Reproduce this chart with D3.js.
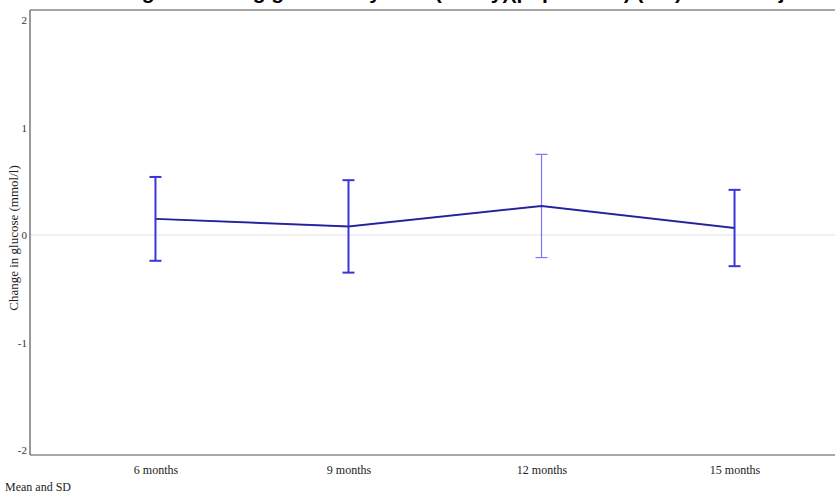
<!DOCTYPE html>
<html>
<head>
<meta charset="utf-8">
<script src="https://cdn.jsdelivr.net/npm/d3@7"></script>
<style>
    body { margin: 0; background: #fff; overflow: hidden; }
    svg { display: block; }
</style>
</head>
<body>
<div id="chart"></div>
<script>
const visits = ["6 months", "9 months", "12 months", "15 months"]
const means = [0.15, 0.08, 0.27, 0.065]
const sds = [0.39, 0.43, 0.48, 0.355]
const yTicks = [-2, -1, 0, 1, 2]
const barColors = ["#3b35d8", "#3b35d8", "#7b78f4", "#3b35d8"]
const barWidths = [2, 2, 1.2, 2]

const w = 835
const h = 493

const svg = d3.select('#chart')
    .append('svg')
    .attr('width', w)
    .attr('height', h)

const xScale = d3.scalePoint()
    .domain(visits)
    .range([30, 860])
    .padding(0.65)

const yScale = d3.scaleLinear()
    .domain([-2, 2])
    .range([450, 20])

const plotTop = yScale(2) - 10
const plotBottom = yScale(-2) + 5
const plotLeft = 30

// title, mostly cut off above the window
svg.append('text')
    .attr('x', 430)
    .attr('y', -1)
    .attr('text-anchor', 'middle')
    .style('font-family', 'Liberation Sans, Arial, sans-serif')
    .style('font-weight', 'bold')
    .style('font-size', '21px')
    .text('Mean change in fasting glucose by visit (safety)(population) (ITT) in all subjects')

// frame
svg.append('line')
    .attr('x1', plotLeft).attr('x2', w)
    .attr('y1', plotTop).attr('y2', plotTop)
    .attr('stroke', '#8a8a8a').attr('stroke-width', 1.5)

svg.append('line')
    .attr('x1', plotLeft).attr('x2', w)
    .attr('y1', plotBottom).attr('y2', plotBottom)
    .attr('stroke', '#555').attr('stroke-width', 1.2)

svg.append('line')
    .attr('x1', plotLeft).attr('x2', w)
    .attr('y1', yScale(0)).attr('y2', yScale(0))
    .attr('stroke', '#e2e2e2').attr('stroke-width', 1)

const yAxis = d3.axisLeft(yScale)
    .tickValues(yTicks)
    .tickSize(0)
    .tickPadding(3)
    .tickFormat(d => String(d))

const yG = svg.append('g')
    .attr('transform', 'translate(' + plotLeft + ',0)')
    .call(yAxis)
yG.select('.domain')
    .attr('d', 'M0,' + plotTop + 'V' + plotBottom)
    .attr('stroke', '#555')
    .attr('stroke-width', 1.2)
yG.selectAll('text')
    .style('font-family', 'Liberation Serif, Times New Roman, serif')
    .style('font-size', '11px')
    .attr('fill', '#333')

const xAxis = d3.axisBottom(xScale)
    .tickSize(0)
    .tickPadding(10)

const xG = svg.append('g')
    .attr('transform', 'translate(0,' + plotBottom + ')')
    .call(xAxis)
xG.select('.domain').remove()
xG.selectAll('text')
    .style('font-family', 'Liberation Serif, Times New Roman, serif')
    .style('font-size', '12px')
    .attr('fill', '#222')

svg.append('text')
    .attr('transform', 'translate(18,' + (yScale(0) + 3) + ') rotate(-90)')
    .attr('text-anchor', 'middle')
    .style('font-family', 'Liberation Serif, Times New Roman, serif')
    .style('font-size', '13px')
    .attr('fill', '#222')
    .text('Change in glucose (mmol/l)')

svg.append('text')
    .attr('x', 5)
    .attr('y', 491)
    .style('font-family', 'Liberation Serif, Times New Roman, serif')
    .style('font-size', '12px')
    .attr('fill', '#222')
    .text('Mean and SD')

const data = visits.map((v, i) => ({ visit: v, mean: means[i], sd: sds[i], color: barColors[i], sw: barWidths[i] }))

// error bars
const bars = svg.append('g')
    .selectAll('g')
    .data(data)
    .enter()
    .append('g')
    .attr('stroke', d => d.color)
    .attr('stroke-width', d => d.sw)

bars.append('line')
    .attr('x1', d => xScale(d.visit)).attr('x2', d => xScale(d.visit))
    .attr('y1', d => yScale(d.mean + d.sd)).attr('y2', d => yScale(d.mean - d.sd))

bars.append('line')
    .attr('x1', d => xScale(d.visit) - 6).attr('x2', d => xScale(d.visit) + 6)
    .attr('y1', d => yScale(d.mean + d.sd)).attr('y2', d => yScale(d.mean + d.sd))

bars.append('line')
    .attr('x1', d => xScale(d.visit) - 6).attr('x2', d => xScale(d.visit) + 6)
    .attr('y1', d => yScale(d.mean - d.sd)).attr('y2', d => yScale(d.mean - d.sd))

// mean line
const line = d3.line()
    .x(d => xScale(d.visit))
    .y(d => yScale(d.mean))

svg.append('path')
    .datum(data)
    .attr('d', line)
    .attr('fill', 'none')
    .attr('stroke', '#3a36d0')
    .attr('stroke-width', 2)

svg.append('path')
    .datum(data)
    .attr('d', line)
    .attr('fill', 'none')
    .attr('stroke', '#1c1a5e')
    .attr('stroke-width', 0.8)
</script>
</body>
</html>
